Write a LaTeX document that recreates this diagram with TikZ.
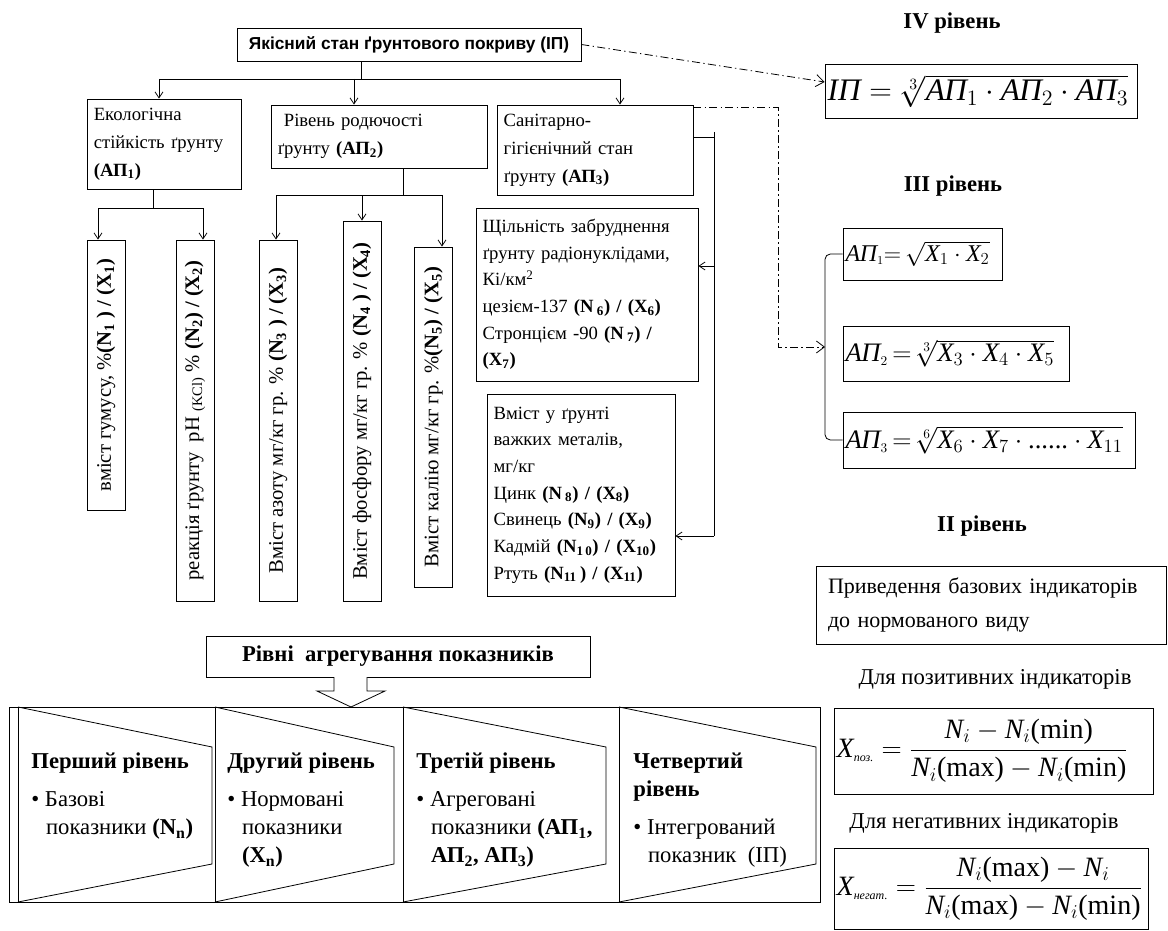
\RequirePackage{fix-cm}
\documentclass[tikz,border=0pt]{standalone}
\usepackage{fontspec}
\setmainfont{Liberation Serif}
\newfontfamily\arialfont{Liberation Sans}
\usepackage{tikz}
\usetikzlibrary{positioning, arrows.meta}

\newcommand{\AP}{\mbox{\itshape АП}}
\newcommand{\IP}{\mbox{\itshape ІП}}
\newcommand{\mX}{\mbox{\itshape X}}
\newcommand{\mN}{\mbox{\itshape N}}

\begin{document}
\begin{tikzpicture}[x=0.75pt, y=-0.75pt, line width=0.6pt,
  blk/.style={draw, inner xsep=5pt, inner ysep=0pt, align=left, font=\fontsize{14}{21}\selectfont},
  vblk/.style={draw, rotate=90, minimum height=28.5pt, inner sep=0pt, font=\fontsize{15.5}{17}\selectfont},
  fml/.style={draw, inner xsep=2pt, inner ysep=0pt, align=left},
  ttl/.style={font=\bfseries\fontsize{17}{20}\selectfont},
  arr/.style={-{Straight Barb[length=4.5pt,width=6pt]}},
  ddarr/.style={-{Straight Barb[length=6pt,width=9pt]}},
  dd/.style={dash pattern=on 6pt off 2.5pt on 1pt off 2.5pt}]
  \useasboundingbox (0,0) rectangle (1168,931);

  % tree of indicators
  \node[draw, minimum width=258pt, minimum height=24.75pt, font=\arialfont\bfseries\fontsize{13}{15}\selectfont] (ip) at (409,44.5) {Якісний стан ґрунтового покриву (ІП)};
  \node[blk, text width=106pt, minimum height=67.5pt] (eco) at (164.5,144) {Екологічна\\стійкість ґрунту\\\textbf{(АП\textsubscript{1})}};
  \node[blk, text width=152pt, minimum height=47.25pt] (fert) at (379,136.5) {\ Рівень родючості\\ґрунту \textbf{(АП\textsubscript{2})}};
  \node[blk, text width=137pt, minimum height=67.5pt] (san) at (595,150) {Санітарно-\\гігієнічний стан\\ґрунту \textbf{(АП\textsubscript{3})}};
  \node[blk, text width=156.5pt, minimum height=129.75pt, font=\fontsize{14}{20}\selectfont] (rad) at (587,294.5) {Щільність забруднення\\ґрунту радіонуклідами,\\Кі/км\textsuperscript{2}\\цезієм-137 \textbf{(N\,\textsubscript{6}) / (X\textsubscript{6})}\\Стронцієм -90 \textbf{(N\,\textsubscript{7}) /}\\\textbf{(X\textsubscript{7})}};
  \node[blk, text width=131pt, minimum height=151.5pt, font=\fontsize{14}{20}\selectfont] (met) at (581,495) {Вміст у ґрунті\\важких металів,\\мг/кг\\Цинк \textbf{(N\,\textsubscript{8}) / (X\textsubscript{8})}\\Свинець \textbf{(N\textsubscript{9}) / (X\textsubscript{9})}\\Кадмій \textbf{(N\textsubscript{1\,0}) / (X\textsubscript{10})}\\Ртуть \textbf{(N\textsubscript{11}\,) / (X\textsubscript{11})}};

  \foreach \nm/\x/\y/\len/\txt in {
    v1/106/375/202.5pt/{вміст гумусу, \%\textbf{(N\textsubscript{1} ) / (X\textsubscript{1})}},
    v2/195/420.5/270.75pt/{реакція ґрунту \ pH \textsubscript{(KCl)} \% \textbf{(N\textsubscript{2}) / (X\textsubscript{2})}},
    v3/278/420.5/270.75pt/{Вміст азоту мг/кг гр. \% \textbf{(N\textsubscript{3} ) / (X\textsubscript{3})}},
    v4/362/411/285pt/{Вміст фосфору мг/кг гр. \% \textbf{(N\textsubscript{4} ) / (X\textsubscript{4})}},
    v5/433.5/417/255pt/{Вміст калію мг/кг гр. \%\textbf{(N\textsubscript{5}) / (X\textsubscript{5})}}}{
    \node[vblk, minimum width=\len] (\nm) at (\x,\y) {\txt};
  }

  \coordinate (t0) at (361,79);
  \coordinate (t1) at (159,79);
  \coordinate (t2) at (354,79);
  \coordinate (t3) at (620,79);
  \draw (ip.south -| t0) -- (t0);
  \draw (t1) -- (t3);
  \draw[arr] (t1) -- (t1 |- eco.north);
  \draw[arr] (t2) -- (t2 |- fert.north);
  \draw[arr] (t3) -- (t3 |- san.north);

  \coordinate (e0) at (153,208);
  \coordinate (e1) at (98,208);
  \coordinate (e2) at (203,208);
  \draw (e0 |- eco.south) -- (e0);
  \draw (e1) -- (e2);
  \draw[arr] (e1) -- (e1 |- v1.east);
  \draw[arr] (e2) -- (e2 |- v2.east);

  \coordinate (f0) at (403,195);
  \coordinate (f1) at (276,195);
  \coordinate (f2) at (362,195);
  \coordinate (f3) at (442,195);
  \draw (f0 |- fert.south) -- (f0);
  \draw (f1) -- (f3);
  \draw[arr] (f1) -- (f1 |- v3.east);
  \draw[arr] (f2) -- (f2 |- v4.east);
  \draw[arr] (f3) -- (f3 |- v5.east);

  \coordinate (s0) at (714,137);
  \coordinate (s1) at (714,132);
  \coordinate (s2) at (714,266);
  \coordinate (s3) at (714,536);
  \draw (san.east |- s0) -- (s0);
  \draw (s1) -- (s3);
  \draw[arr] (s2) -- (s2 -| rad.east);
  \draw[arr] (s3) -- (s3 -| met.east);

  % levels IV, III, II
  \node[ttl] (l4) at (952,23) {IV рівень};
  \node[fml, text width=230pt, minimum height=40.5pt, font=\fontsize{23.5}{27}\selectfont] (fIV) at (981,91) {\mbox{$\IP = \sqrt[3]{\AP_1 \cdot \AP_2 \cdot \AP_3}$}};
  \node[ttl] (l3) at (953,186) {III рівень};
  \node[fml, text width=115.25pt, minimum height=39pt, font=\fontsize{18}{22}\selectfont] (fAP1) at (922.5,254) {\mbox{$\AP_{\scriptscriptstyle 1}{=}\,\sqrt{\mX_1 \cdot \mX_2}$}};
  \node[fml, text width=165.5pt, minimum height=41.25pt, font=\fontsize{20}{24}\selectfont] (fAP2) at (956,353.5) {\mbox{$\AP_{\scriptscriptstyle 2}\,{=}\,\sqrt[3]{\mX_3 \cdot \mX_4 \cdot \mX_5}$}};
  \node[fml, text width=215pt, minimum height=42pt, font=\fontsize{20}{24}\selectfont] (fAP3) at (989,440) {\mbox{$\AP_{\scriptscriptstyle 3}\,{=}\,\sqrt[6]{\mX_6 \cdot \mX_7 \cdot\mbox{......}\cdot \mX_{11}}$}};
  \coordinate (q1) at (778,347);
  \coordinate (brk) at (825,347);
  \draw[dd, ddarr] (ip.east) -- ([yshift=6.75pt]fIV.west);
  \draw[dd, ddarr] ([yshift=-2.25pt]san.north east) -| (q1) -- (brk);
  \draw[rounded corners=4pt] (fAP1.west) -| (brk) |- (fAP3.west);

  \node[ttl] (l2) at (982,526) {II рівень};
  \node[blk, text width=244.5pt, inner xsep=9pt, minimum height=58.5pt, font=\fontsize{16.5}{25}\selectfont] (norm) at (991,605) {Приведення базових індикаторів\\до нормованого виду};
  \node[font=\fontsize{17}{20}\selectfont] (posl) at (995,679) {Для позитивних індикаторів};
  \node[fml, text width=235.25pt, minimum height=64.5pt, font=\fontsize{21}{25}\selectfont] (fpoz) at (993.5,751) {\mbox{$\mX_{\mbox{\fontsize{9}{9}\selectfont\itshape поз.}} = \displaystyle\frac{\mN_i - \mN_i\mbox{(min)}}{\mN_i\mbox{(max)} - \mN_i\mbox{(min)}}$}};
  \node[font=\fontsize{17}{20}\selectfont] (negl) at (984,823) {Для негативних індикаторів};
  \node[fml, text width=231.5pt, minimum height=60.75pt, font=\fontsize{21}{25}\selectfont] (fneg) at (991,888.5) {\mbox{$\mX_{\mbox{\fontsize{9}{9}\selectfont\itshape негат.}} = \displaystyle\frac{\mN_i\mbox{(max)} - \mN_i}{\mN_i\mbox{(max)} - \mN_i\mbox{(min)}}$}};

  % levels of aggregation
  \node[draw, minimum width=288pt, minimum height=30.75pt, font=\bfseries\fontsize{17}{20}\selectfont] (aggr) at (398,656.5) {Рівні \ агрегування показників};
  \draw[fill=white] (334,677) -- (334,691) -- (317,691) -- (351,707) -- (385,691) -- (367,691) -- (367,677);
  \draw (9,707) rectangle (820,902);
  \draw (18,707) -- (18,902);
  \foreach \x in {215,403,619}
    \draw (\x,707) -- (\x,902);
  \foreach \l/\r in {18/212, 215/394, 403/606, 619/816}
    \draw (\l,707) -- (\r,747) -- (\r,864) -- (\l,902);

  \foreach \nm/\x/\txt in {
    lv1/31/{\textbf{Перший рівень}\\[8pt]\textbullet\ Базові\\\hspace*{11pt}показники \textbf{(N\textsubscript{n})}},
    lv2/227/{\textbf{Другий рівень}\\[8pt]\textbullet\ Нормовані\\\hspace*{11pt}показники\\\hspace*{11pt}\textbf{(X\textsubscript{n})}},
    lv3/416/{\textbf{Третій рівень}\\[8pt]\textbullet\ Агреговані\\\hspace*{11pt}показники \textbf{(АП\textsubscript{1},}\\\hspace*{11pt}\textbf{АП\textsubscript{2}, АП\textsubscript{3})}},
    lv4/633/{\textbf{Четвертий}\\\textbf{рівень}\\[8pt]\textbullet\ Інтегрований\\\hspace*{11pt}показник \ (ІП)}}{
    \node[anchor=base west, inner sep=0pt, font=\fontsize{17}{21}\selectfont] (\nm) at (\x,768) {\parbox[t]{150pt}{\raggedright\txt}};
  }
\end{tikzpicture}
\end{document}
